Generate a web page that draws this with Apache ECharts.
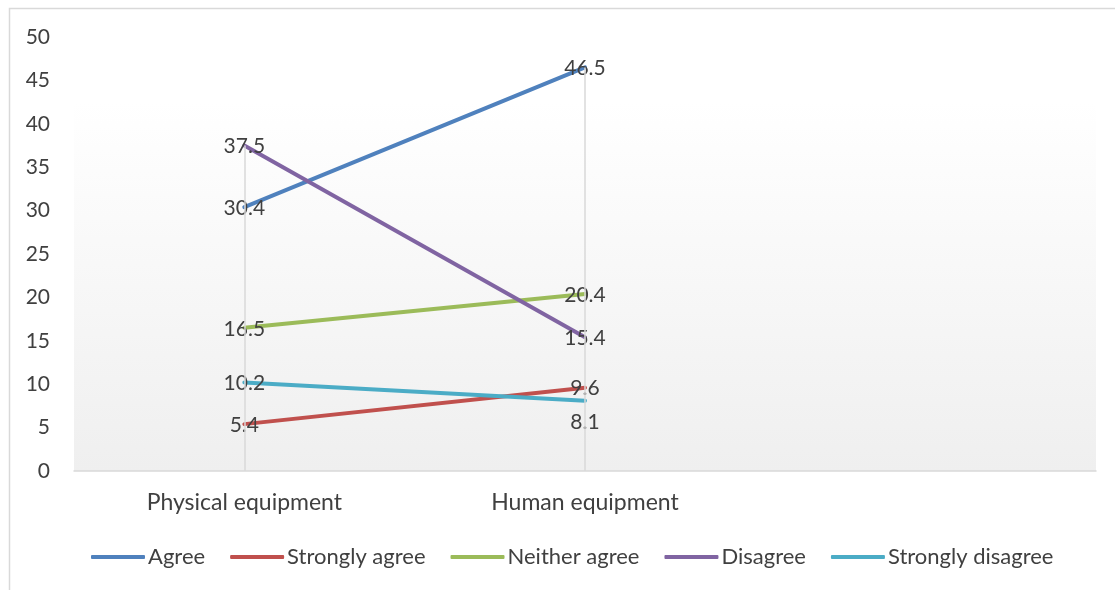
<!DOCTYPE html>
<html>
<head>
<meta charset="utf-8">
<script src="https://cdn.jsdelivr.net/npm/echarts@6/dist/echarts.min.js"></script>
<style>
  html, body { margin: 0; padding: 0; background: #fff; }
  #chart { width: 1115px; height: 590px; }
</style>
</head>
<body>
<div id="chart"></div>
<script>
// Survey responses per equipment type (percent)
const categories = ['Physical equipment', 'Human equipment', ''];
const seriesNames = ['Agree', 'Strongly agree', 'Neither agree', 'Disagree', 'Strongly disagree'];
const agree = [30.4, 46.5];
const stronglyAgree = [5.4, 9.6];
const neitherAgree = [16.5, 20.4];
const disagree = [37.5, 15.4];
const stronglyDisagree = [10.2, 8.1];
const yTicks = [0, 5, 10, 15, 20, 25, 30, 35, 40, 45, 50];

const colors = ['#4F81BD', '#C0504D', '#9BBB59', '#8064A2', '#4BACC6'];
const values = [agree, stronglyAgree, neitherAgree, disagree, stronglyDisagree];
const font = 'Lato, "Liberation Sans", sans-serif';

// Drop lines from the highest value of each category down to the axis
const dropLines = [0, 1].map(i => {
  const top = Math.max(...values.map(v => v[i]));
  return [{ coord: [i, top] }, { coord: [i, 0] }];
});

const series = [{
  type: 'line',
  data: [],
  silent: true,
  z: 1,
  markLine: {
    silent: true,
    symbol: 'none',
    label: { show: false },
    lineStyle: { color: '#d9d9d9', width: 1.5, type: 'solid' },
    data: dropLines
  }
}];

values.forEach((v, k) => {
  series.push({
    name: seriesNames[k],
    type: 'line',
    data: v.map((y, i) => {
      // the lower label at Human equipment sits beneath its point
      if (k === 4 && i === 1) {
        return { value: y, label: { position: 'bottom', distance: 10 } };
      }
      return y;
    }),
    z: 3,
    showSymbol: true,
    symbol: 'circle',
    symbolSize: 0,
    color: colors[k],
    lineStyle: { width: 4, color: colors[k], cap: 'round' },
    label: {
      show: true,
      position: 'inside',
      offset: [0, 1],
      color: '#404040',
      fontSize: 21,
      fontFamily: font
    }
  });
});

const chart = echarts.init(document.getElementById('chart'), null, { renderer: 'canvas' });
chart.setOption({
  animation: false,
  backgroundColor: '#ffffff',
  graphic: [{
    type: 'rect',
    shape: { x: 9.5, y: 8.5, width: 1200, height: 700 },
    style: { fill: 'none', stroke: '#d9d9d9', lineWidth: 1.5 },
    silent: true,
    z: -1
  }],
  grid: {
    left: 74, right: 19, top: 37, bottom: 119,
    show: true,
    borderWidth: 0,
    backgroundColor: {
      type: 'linear', x: 0, y: 0, x2: 0, y2: 1,
      colorStops: [
        { offset: 0, color: '#ffffff' },
        { offset: 0.15, color: '#ffffff' },
        { offset: 1, color: '#efefef' }
      ]
    }
  },
  legend: {
    top: 541,
    left: 86,
    itemWidth: 54,
    itemHeight: 4,
    itemGap: 25,
    icon: 'roundRect',
    data: seriesNames,
    textStyle: { color: '#404040', fontSize: 22, fontFamily: font, padding: [0, 0, 0, -2] }
  },
  xAxis: {
    type: 'category',
    data: categories,
    boundaryGap: true,
    axisLine: { lineStyle: { color: '#d9d9d9', width: 1.5 } },
    axisTick: { show: false },
    axisLabel: { color: '#404040', fontSize: 23, fontFamily: font, margin: 20 },
    splitLine: { show: false }
  },
  yAxis: {
    type: 'value',
    min: yTicks[0],
    max: yTicks[yTicks.length - 1],
    interval: yTicks[1] - yTicks[0],
    axisLine: { show: false },
    axisTick: { show: false },
    splitLine: { show: false },
    axisLabel: { color: '#404040', fontSize: 21, fontFamily: font, margin: 24 }
  },
  series: series
});
</script>
</body>
</html>
